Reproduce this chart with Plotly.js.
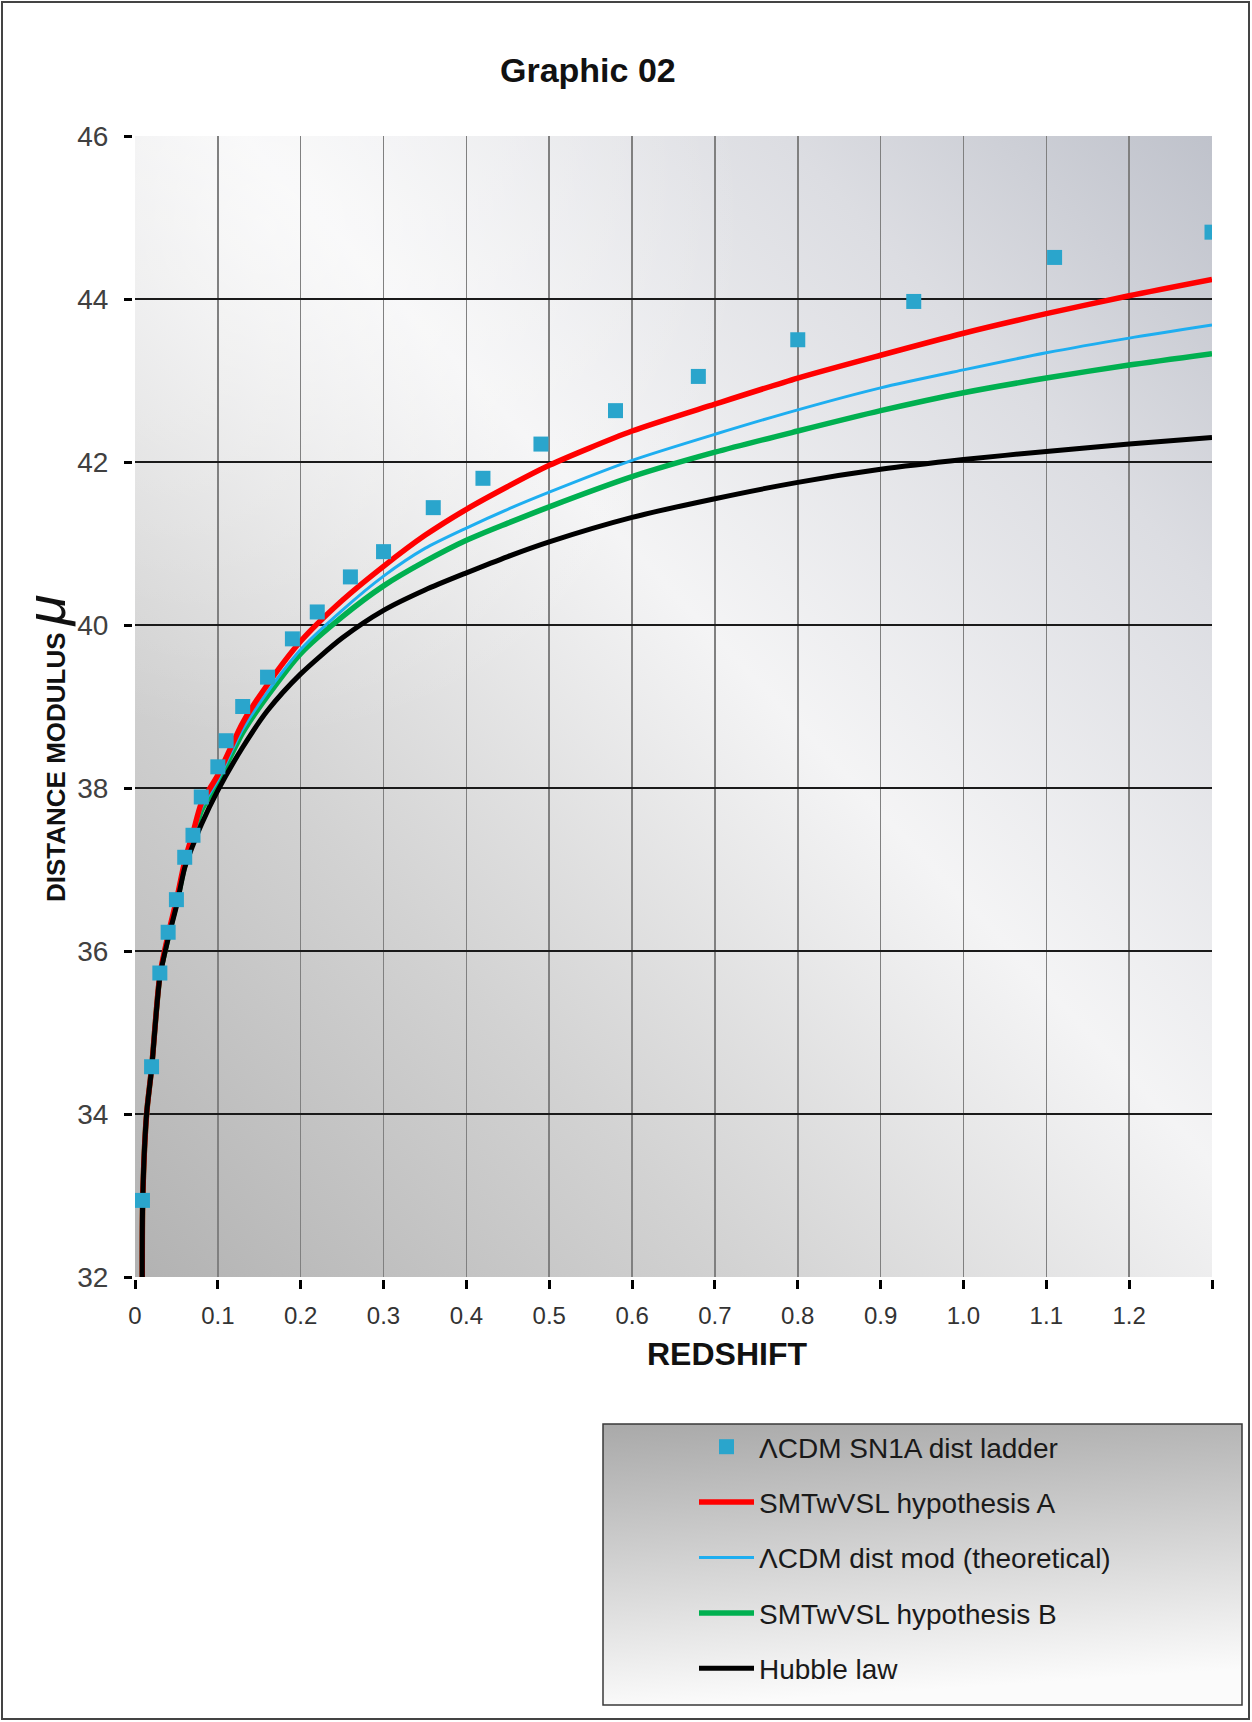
<!DOCTYPE html>
<html><head><meta charset="utf-8">
<script src="https://cdn.plot.ly/plotly-3.0.1.min.js"></script>
<style>html,body{margin:0;padding:0;background:#fff}#chart{width:1252px;height:1722px}</style>
</head><body><div id="chart"></div>
<script>
// ---- data ----
const zSN = [0.009,0.02,0.03,0.04,0.05,0.06,0.07,0.08,0.10,0.11,0.13,0.16,0.19,0.22,0.26,0.30,0.36,0.42,0.49,0.58,0.68,0.80,0.94,1.11,1.30];
const muSN = [32.94,34.58,35.73,36.23,36.63,37.15,37.42,37.89,38.26,38.58,39.00,39.36,39.83,40.16,40.59,40.90,41.44,41.80,42.22,42.63,43.05,43.50,43.97,44.51,44.82];

const zFit = [0.0088,0.0093,0.014,0.02,0.03,0.04,0.05,0.06,0.07,0.08,0.10,0.13,0.16,0.20,0.25,0.30,0.35,0.40,0.45,0.50,0.60,0.70,0.80,0.90,1.00,1.10,1.20,1.30];
const muHypA   = [31.7,32.94,34.00,34.56,35.70,36.20,36.62,37.10,37.45,37.81,38.16,38.80,39.27,39.80,40.30,40.72,41.10,41.42,41.70,41.96,42.38,42.71,43.03,43.31,43.58,43.82,44.04,44.24];
const muLCDM   = [31.7,32.94,34.00,34.56,35.69,36.18,36.60,37.07,37.40,37.75,38.10,38.72,39.18,39.70,40.18,40.60,40.94,41.19,41.42,41.63,42.02,42.34,42.64,42.91,43.13,43.34,43.52,43.68];
const muHypB   = [31.7,32.94,34.00,34.56,35.69,36.17,36.58,37.05,37.38,37.72,38.07,38.68,39.13,39.65,40.10,40.48,40.78,41.04,41.25,41.45,41.82,42.12,42.38,42.63,42.85,43.03,43.19,43.33];
const muHubble = [31.7,32.94,34.00,34.55,35.68,36.15,36.55,37.02,37.30,37.55,37.97,38.50,38.95,39.40,39.84,40.18,40.43,40.64,40.84,41.02,41.32,41.55,41.75,41.91,42.03,42.13,42.22,42.30];

const seriesNames = ['\u039BCDM SN1A dist ladder','SMTwVSL hypothesis A','\u039BCDM dist mod (theoretical)','SMTwVSL hypothesis B','Hubble law'];
const xTickVals = [0,0.1,0.2,0.3,0.4,0.5,0.6,0.7,0.8,0.9,1.0,1.1,1.2,1.3];
const xTickText = ['0','0.1','0.2','0.3','0.4','0.5','0.6','0.7','0.8','0.9','1.0','1.1','1.2',''];
const yTickVals = [32,34,36,38,40,42,44,46];

// ---- geometry helpers (pixel -> paper) ----
const W = 1252, H = 1722, ML = 135, MR = 40, MT = 136, MB = 445;
const PW = W - ML - MR, PH = H - MT - MB;
const px = x => (x - ML) / PW;
const py = y => (H - MB - y) / PH;

const FONT = 'Liberation Sans, Arial, Helvetica, sans-serif';
const LEG = {l: 603, r: 1242, t: 1424, b: 1705};

function svgURI(s){ return 'data:image/svg+xml;charset=utf-8,' + encodeURIComponent(s); }
const plotBg = svgURI(
 "<svg xmlns='http://www.w3.org/2000/svg' width='1077' height='1141' viewBox='0 0 1077 1141' preserveAspectRatio='none'>" +
 "<defs><linearGradient id='g' x1='0' y1='1' x2='1' y2='0'>" +
 "<stop offset='0' stop-color='#b2b2b2'/><stop offset='0.28' stop-color='#d2d2d2'/>" +
 "<stop offset='0.55' stop-color='#f4f4f5'/><stop offset='0.8' stop-color='#dcdde2'/><stop offset='1' stop-color='#bfc2cb'/>" +
 "</linearGradient>" +
 "<radialGradient id='r' cx='0.12' cy='0.08' r='0.45'><stop offset='0' stop-color='#ffffff' stop-opacity='0.55'/><stop offset='1' stop-color='#ffffff' stop-opacity='0'/></radialGradient>" +
 "</defs><rect width='1077' height='1141' fill='url(#g)'/><rect width='1077' height='1141' fill='url(#r)'/></svg>");
const legBg = svgURI(
 "<svg xmlns='http://www.w3.org/2000/svg' width='600' height='276' viewBox='0 0 600 276' preserveAspectRatio='none'>" +
 "<defs><linearGradient id='l' x1='0' y1='0' x2='0.15' y2='1'>" +
 "<stop offset='0' stop-color='#a9a9a9'/><stop offset='1' stop-color='#fbfbfb'/></linearGradient></defs>" +
 "<rect width='600' height='276' fill='url(#l)'/></svg>");

const traces = [
 {x: zSN, y: muSN, name: seriesNames[0], type: 'scatter', mode: 'markers',
  marker: {symbol: 'square', size: 15, color: '#2aa5cc', line: {width: 0}}, legendgroup: 'a', zorder: 5},
 {x: zFit, y: muHypA, name: seriesNames[1], type: 'scatter', mode: 'lines',
  line: {color: '#ff0000', width: 5.5, shape: 'spline', smoothing: 0.7}, legendgroup: 'b', zorder: 3},
 {x: zFit, y: muLCDM, name: seriesNames[2], type: 'scatter', mode: 'lines',
  line: {color: '#1eaef0', width: 3, shape: 'spline', smoothing: 0.7}, legendgroup: 'c', zorder: 2},
 {x: zFit, y: muHypB, name: seriesNames[3], type: 'scatter', mode: 'lines',
  line: {color: '#00b050', width: 5.5, shape: 'spline', smoothing: 0.7}, legendgroup: 'd', zorder: 1},
 {x: zFit, y: muHubble, name: seriesNames[4], type: 'scatter', mode: 'lines',
  line: {color: '#000000', width: 5, shape: 'spline', smoothing: 0.7}, legendgroup: 'e', zorder: 4}
];

const layout = {
 width: W, height: H,
 margin: {l: ML, r: MR, t: MT, b: MB, pad: 0},
 paper_bgcolor: '#ffffff', plot_bgcolor: 'rgba(0,0,0,0)',
 font: {family: FONT, color: '#222'},
 showlegend: true,
 legend: {x: px(694), y: py(1422), xanchor: 'left', yanchor: 'top',
  bgcolor: 'rgba(0,0,0,0)', borderwidth: 0, traceorder: 'grouped', tracegroupgap: 16,
  itemwidth: 55, font: {family: FONT, size: 28, color: '#1a1a1a'}},
 xaxis: {range: [0, 1.3], tickvals: xTickVals, ticktext: xTickText,
  showgrid: true, gridcolor: '#808080', gridwidth: 1.5, zeroline: false,
  showline: true, linecolor: '#000', linewidth: 3, ticks: 'outside', ticklen: 9, tickwidth: 3, tickcolor: '#000',
  tickfont: {family: FONT, size: 24, color: '#333'}, ticklabelstandoff: 6, fixedrange: true},
 yaxis: {range: [32, 46], tickvals: yTickVals,
  showgrid: true, gridcolor: '#1a1a1a', gridwidth: 1.5, zeroline: false,
  showline: true, linecolor: '#000', linewidth: 3, mirror: true, ticks: 'outside', ticklen: 8, tickwidth: 3, tickcolor: '#000',
  tickfont: {family: FONT, size: 28, color: '#404040'}, ticklabelstandoff: 10, fixedrange: true},
 images: [
  {source: plotBg, xref: 'paper', yref: 'paper', x: 0, y: 1, sizex: 1, sizey: 1, sizing: 'stretch', layer: 'below', xanchor: 'left', yanchor: 'top'},
  {source: legBg, xref: 'paper', yref: 'paper', x: px(LEG.l), y: py(LEG.t), sizex: px(LEG.r) - px(LEG.l), sizey: py(LEG.t) - py(LEG.b), sizing: 'stretch', layer: 'below', xanchor: 'left', yanchor: 'top'}
 ],
 shapes: [
  {type: 'rect', xref: 'paper', yref: 'paper', x0: px(LEG.l), x1: px(LEG.r), y0: py(LEG.b), y1: py(LEG.t), line: {color: '#3a3a3a', width: 1.5}, fillcolor: 'rgba(0,0,0,0)'},
  {type: 'rect', xref: 'paper', yref: 'paper', x0: px(2), x1: px(1249), y0: py(1719), y1: py(2), line: {color: '#444', width: 2}, fillcolor: 'rgba(0,0,0,0)'}
 ],
 annotations: [
  {text: '<b>Graphic 02</b>', xref: 'paper', yref: 'paper', x: px(588), y: py(70), xanchor: 'center', yanchor: 'middle', showarrow: false, font: {family: FONT, size: 34, color: '#111'}},
  {text: '<b>REDSHIFT</b>', xref: 'paper', yref: 'paper', x: px(727), y: py(1354), xanchor: 'center', yanchor: 'middle', showarrow: false, font: {family: FONT, size: 32, color: '#111'}},
  {text: "<b>DISTANCE MODULUS</b> <i><span style='font-size:56px'>\u03BC</span></i>", xref: 'paper', yref: 'paper', x: px(45), y: py(748), xanchor: 'center', yanchor: 'middle', textangle: -90, showarrow: false, font: {family: FONT, size: 26, color: '#111'}}
 ]
};

Plotly.newPlot('chart', traces, layout, {displayModeBar: false, staticPlot: true});
</script></body></html>
